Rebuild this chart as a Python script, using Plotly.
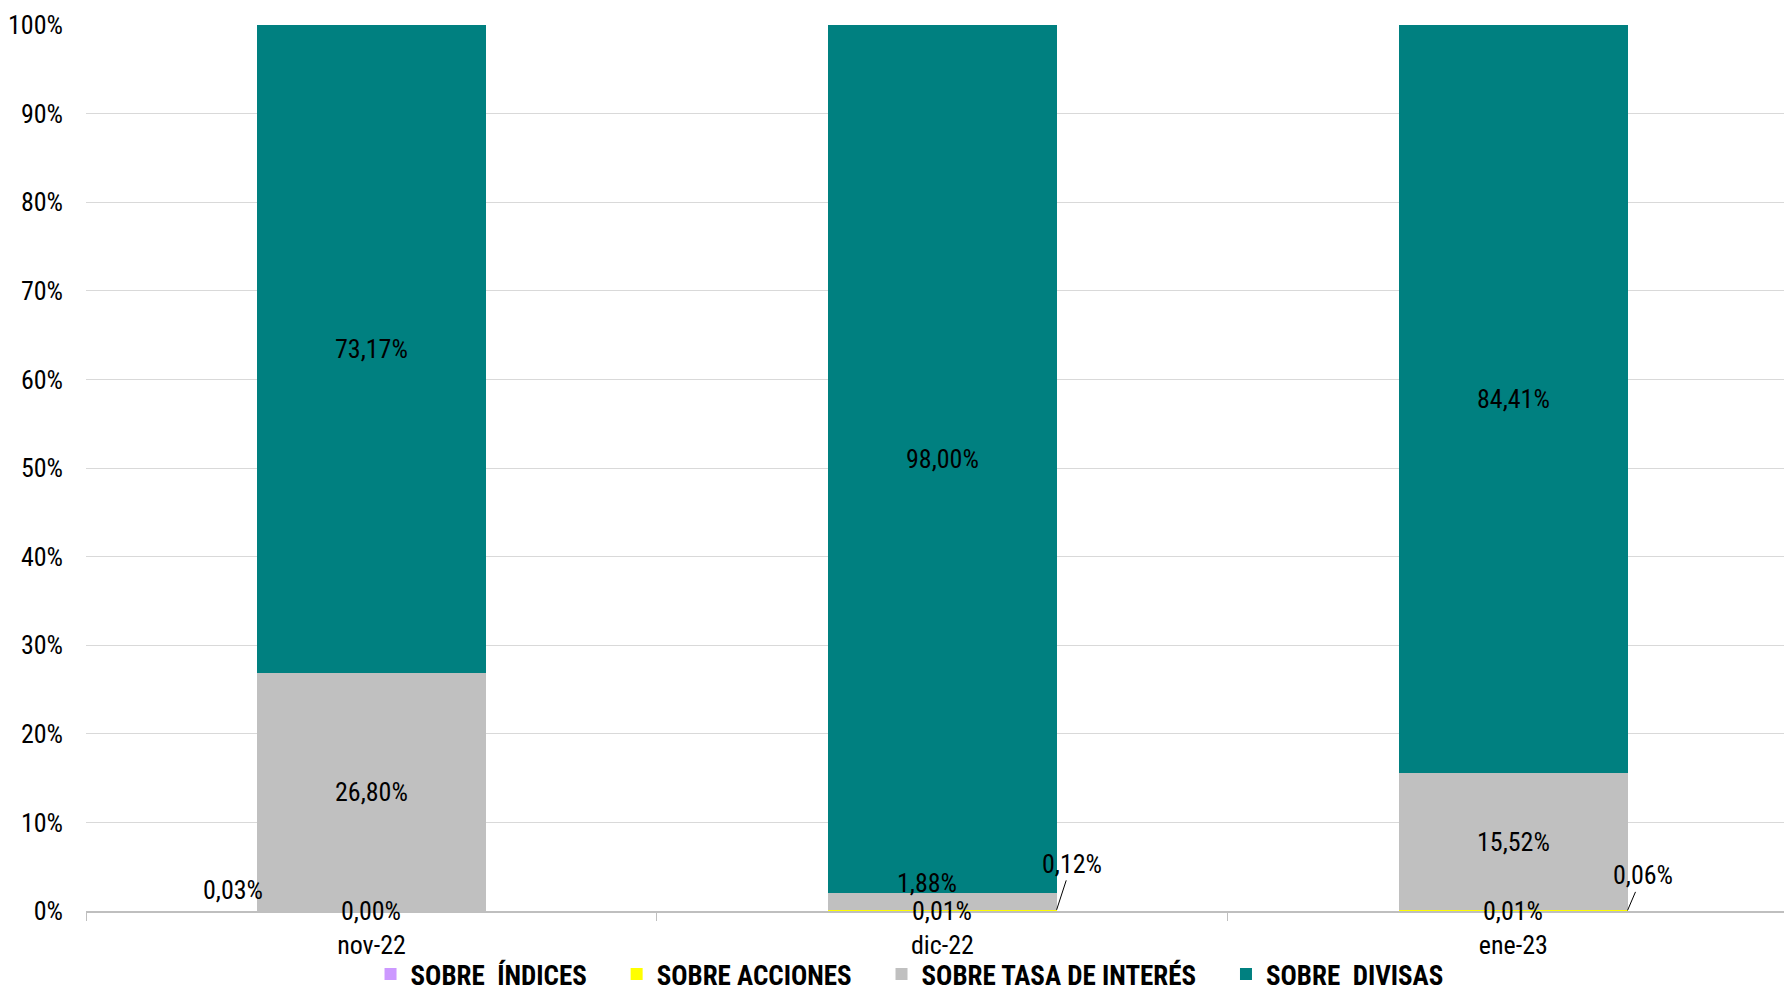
import plotly.graph_objects as go

meses = ["nov-22", "dic-22", "ene-23"]
series = ["SOBRE\u00a0 ÍNDICES", "SOBRE ACCIONES", "SOBRE TASA DE INTERÉS", "SOBRE\u00a0 DIVISAS"]
indices = [0.00, 0.01, 0.01]
acciones = [0.03, 0.12, 0.06]
tasa_interes = [26.80, 1.88, 15.52]
divisas = [73.17, 98.00, 84.41]
colores = ["#CC99FF", "#FFFF00", "#C0C0C0", "#008080"]

FONT = "Liberation Sans Narrow, Arial Narrow, Roboto Condensed, sans-serif"
valores = [indices, acciones, tasa_interes, divisas]
RELLENO = "\u00a0" * 4  # separa los items de la leyenda


def pct(v):
    return f"{v:.2f}".replace(".", ",") + "%"


fig = go.Figure()
for k, (nombre, vals, color) in enumerate(zip(series, valores, colores)):
    fig.add_trace(go.Bar(x=meses, y=vals, name=nombre + (RELLENO if k < 3 else ""),
                         marker_color=color, marker_line_width=0))

# etiquetas de datos
base = [0.0, 0.0, 0.0]
for s, vals in enumerate(valores):
    for i, v in enumerate(vals):
        centro = base[i] + v / 2
        tope = base[i] + v
        txt = pct(v)
        if s == 1 and i == 0:
            fig.add_annotation(x=i, y=tope, text=txt, showarrow=False,
                               xshift=-138, yshift=21)
        elif s == 1:
            fig.add_annotation(x=i + 0.2, y=tope, text=txt, showarrow=True,
                               arrowhead=0, arrowwidth=1, arrowcolor="black",
                               ax=15, ay=-46 if i == 1 else -35, standoff=0)
        elif s == 2 and i == 1:
            fig.add_annotation(x=i, y=centro, text=txt, showarrow=False,
                               xshift=-15, yshift=19)
        else:
            fig.add_annotation(x=i, y=centro, text=txt, showarrow=False)
        base[i] = tope

fig.update_annotations(font=dict(family=FONT, size=26, color="black"))

# la pagina tiene 8px de margen: figura algo menor para no tener scroll
fig.update_layout(
    barmode="stack",
    bargap=0.6,
    width=1776, height=991,
    margin=dict(l=78, r=0, t=17, b=88, autoexpand=False),
    plot_bgcolor="white", paper_bgcolor="white",
    font=dict(family=FONT, size=26, color="black"),
    legend=dict(orientation="h", x=0.485, xanchor="center", y=-0.0993, yanchor="bottom",
                bgcolor="rgba(0,0,0,0)",
                font=dict(family=FONT, size=27, color="black", weight="bold"),
                traceorder="normal", itemwidth=30),
    showlegend=True,
)
fig.update_xaxes(range=[-0.5, 2.474], showline=True, linecolor="#BFBFBF", linewidth=1.5,
                 automargin=False, ticks="outside", tickson="boundaries", ticklen=8,
                 tickcolor="#BFBFBF", showgrid=False, ticklabelstandoff=10)
fig.update_yaxes(range=[0, 100], dtick=10, ticksuffix="%", showgrid=True, automargin=False,
                 gridcolor="#D9D9D9", gridwidth=1, zeroline=False, showline=False,
                 ticklabelstandoff=22)

fig.write_html("out.html")
